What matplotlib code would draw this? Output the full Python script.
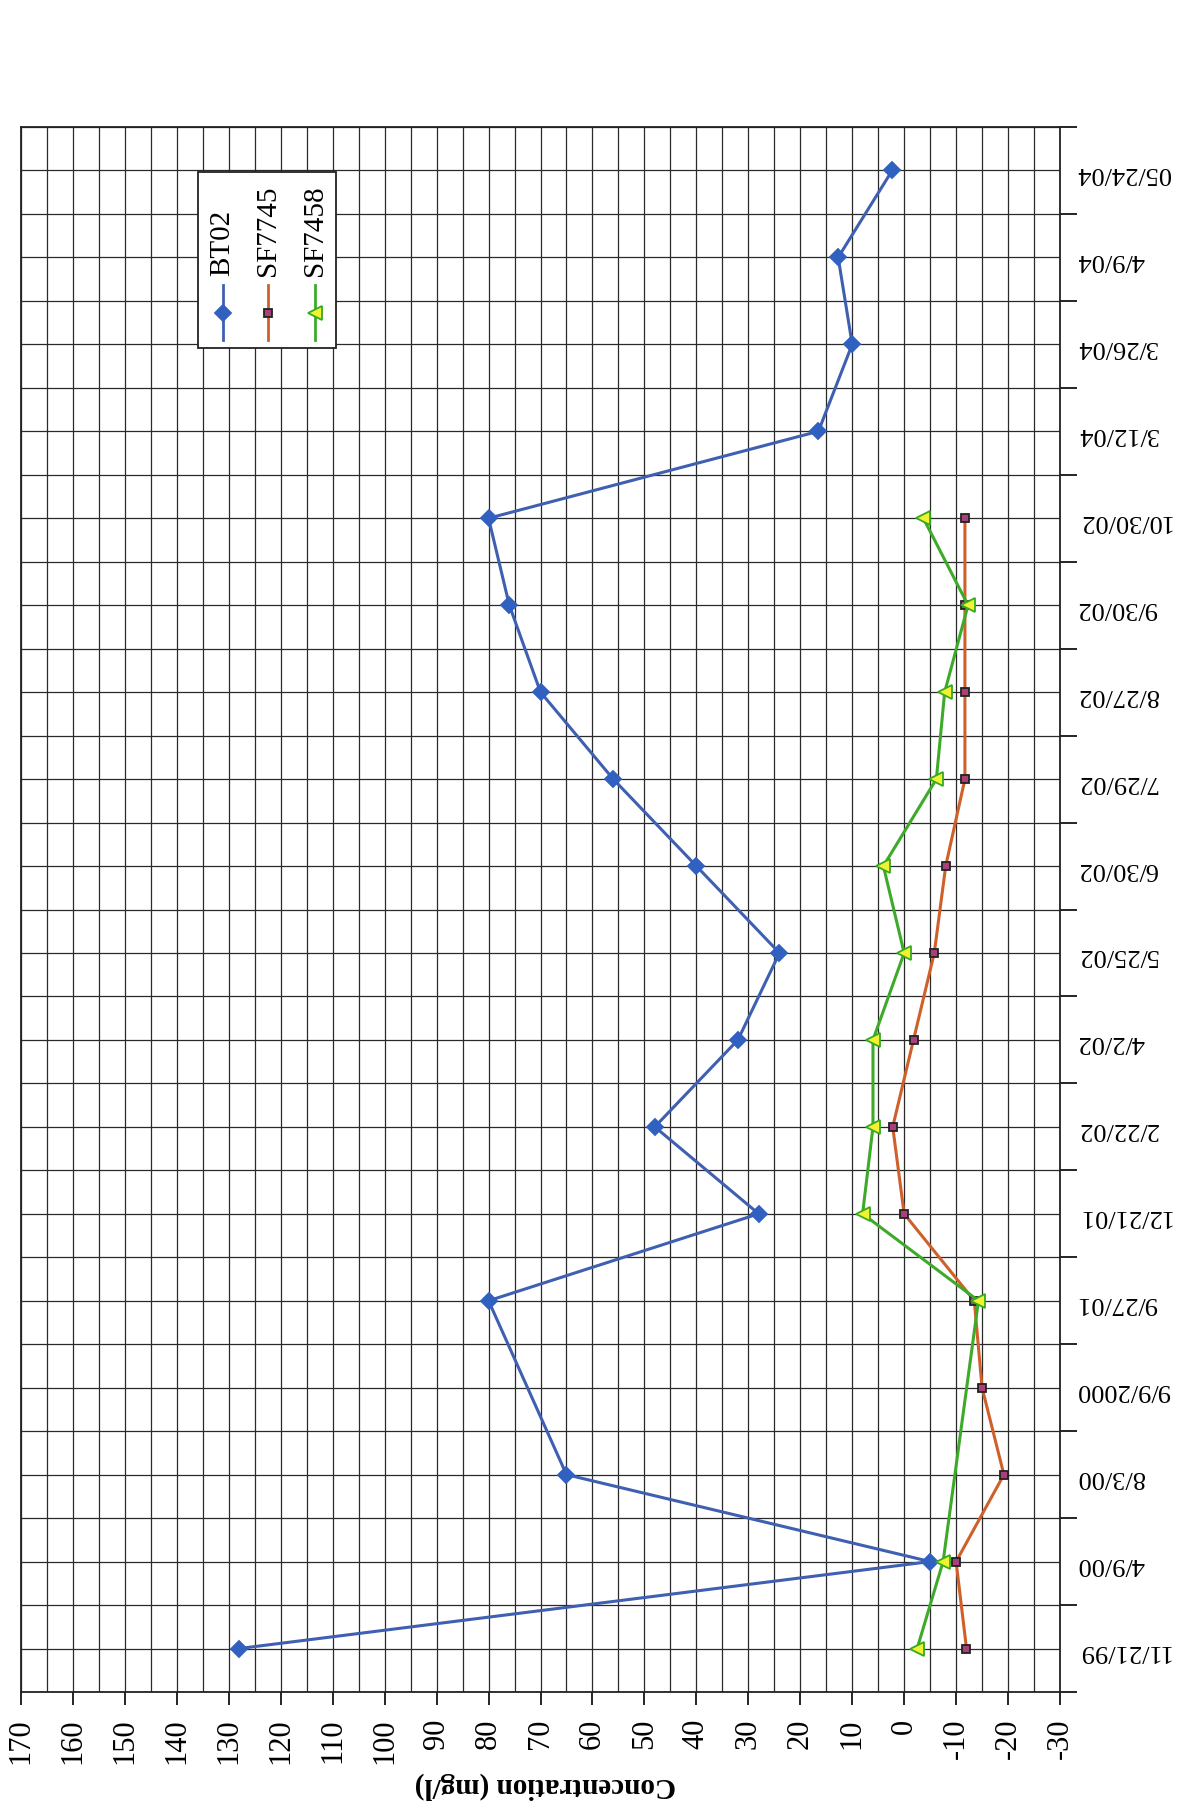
import numpy as np
import matplotlib.pyplot as plt

plt.rcParams['font.family'] = ['Liberation Serif', 'DejaVu Serif']

############################ dados ############################
datas = ['11/21/99', '4/9/00', '8/3/00', '9/9/2000', '9/27/01', '12/21/01',
         '2/22/02', '4/2/02', '5/25/02', '6/30/02', '7/29/02', '8/27/02',
         '9/30/02', '10/30/02', '3/12/04', '3/26/04', '4/9/04', '05/24/04']

nan = np.nan
bt02 = np.array([128, -5, 65, nan, 80, 28, 48, 32, 24, 40, 56, 70, 76, 80,
                 16.5, 10, 12.7, 2.3])
sf7745 = np.array([-12, -10, -19.2, -15, -13.5, 0, 2.2, -1.8, -5.8, -8,
                   -11.7, -11.7, -11.7, -11.7, nan, nan, nan, nan])
sf7458 = np.array([-2.5, -7.5, nan, nan, -14.3, 8, 6, 6, 0, 4, -6.2, -7.8,
                   -12.3, -3.7, nan, nan, nan, nan])

series = [
    ('BT02', bt02, '#3F5FB0', 'D', '#3060C0', '#3060C0', 8),
    ('SF7745', sf7745, '#D0602A', 's', '#A8407A', '#222222', 6),
    ('SF7458', sf7458, '#3DAA2A', '<', '#F2F230', '#33AA22', 10),
]

# o gráfico original está girado (página escaneada de lado)
fig = plt.figure(figsize=(11.86, 18.11), dpi=100)
ax = fig.add_axes([21 / 1186, 1 - 1692 / 1811, 1039 / 1186, 1565 / 1811])

pos = np.arange(len(datas)) + 0.5
for nome, vals, cor, mk, face, borda, ms in series:
    ok = ~np.isnan(vals)
    ax.plot(vals[ok], pos[ok], color=cor, lw=2.2, marker=mk, ms=ms,
            markerfacecolor=face, markeredgecolor=borda, markeredgewidth=1.3,
            zorder=3)

ax.set_xlim(170, -30)
ax.set_ylim(0, len(datas))

ax.set_xticks(np.arange(-30, 171, 10))
ax.set_xticks(np.arange(-30, 171, 5), minor=True)
ax.set_xticklabels([str(v) for v in np.arange(-30, 171, 10)])
ax.tick_params(axis='x', which='major', length=9, width=1.2, pad=10,
               labelrotation=90, labelsize=22)
ax.tick_params(axis='x', which='minor', length=0)

ax.yaxis.tick_right()
ax.set_yticks(pos)
ax.set_yticklabels(datas)
ax.set_yticks(np.arange(0, len(datas) + 1), minor=True)
ax.tick_params(axis='y', which='major', length=0, pad=12, labelrotation=180,
               labelsize=19)
ax.tick_params(axis='y', which='minor', length=12, width=1.2, direction='out')

ax.grid(which='both', color='#2a2a2a', lw=0.9)
ax.set_axisbelow(True)
for s in ax.spines.values():
    s.set_color('#222222')
    s.set_linewidth(1.3)

# legenda vertical desenhada à mão
leg_x = [0.1941, 0.2377, 0.2830]
ax.add_patch(plt.Rectangle((0.1704, 0.8588), 0.1328, 0.1124,
                           transform=ax.transAxes, facecolor='white',
                           edgecolor='#222222', lw=1.3, zorder=4))
for (nome, vals, cor, mk, face, borda, ms), lx in zip(series, leg_x):
    ax.plot([lx, lx], [0.864, 0.899], transform=ax.transAxes, color=cor,
            lw=2, zorder=5)
    ax.plot([lx], [0.881], transform=ax.transAxes, marker=mk, ms=ms,
            markerfacecolor=face, markeredgecolor=borda, markeredgewidth=1.3,
            zorder=6)
    ax.text(lx, 0.905, nome, transform=ax.transAxes, rotation=90,
            ha='center', va='bottom', fontsize=21, zorder=6)

fig.text(545 / 1186, 1 - 1786 / 1811, 'Concentration (mg/l)', rotation=180,
         ha='center', va='center', fontsize=21, fontweight='bold')

fig.savefig('out.png', dpi=100, facecolor='white')
